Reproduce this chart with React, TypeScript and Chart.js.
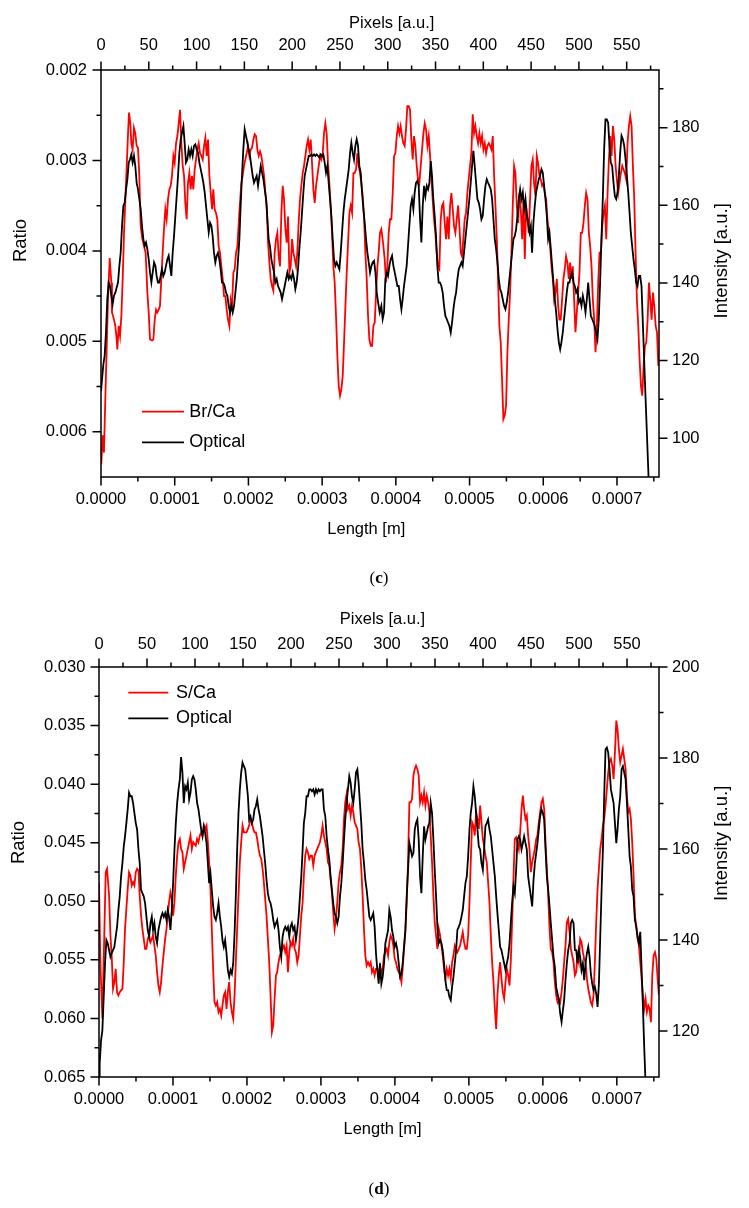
import React, { useEffect, useRef } from 'react';
import { Chart, registerables } from 'chart.js';

Chart.register(...registerables);

const FONT = "'Liberation Sans', Arial, sans-serif";

// ---- axis tick values ----
const pixelTicks = [0, 50, 100, 150, 200, 250, 300, 350, 400, 450, 500, 550];
const pixelMinorTicks = [25, 75, 125, 175, 225, 275, 325, 375, 425, 475, 525, 575];
const lengthTicks = [0, 0.0001, 0.0002, 0.0003, 0.0004, 0.0005, 0.0006, 0.0007];
const lengthMinorTicks = [0.00005, 0.00015, 0.00025, 0.00035, 0.00045, 0.00055, 0.00065, 0.00075];
const ratioTicksC = [0.002, 0.003, 0.004, 0.005, 0.006];
const ratioMinorC = [0.0025, 0.0035, 0.0045, 0.0055];
const intensityTicksC = [100, 120, 140, 160, 180];
const intensityMinorC = [110, 130, 150, 170, 190];
const ratioTicksD = [0.030, 0.035, 0.040, 0.045, 0.050, 0.055, 0.060, 0.065];
const ratioMinorD = [0.0325, 0.0375, 0.0425, 0.0475, 0.0525, 0.0575, 0.0625];
const intensityTicksD = [120, 140, 160, 180, 200];
const intensityMinorD = [130, 150, 170, 190];

// ---- series (x = pixel [a.u.], y = value) ----
const brCa: number[][] = [[0.3,0.00636],[1.7,0.00604],[3.1,0.00623],[4.5,0.00564],[5.9,0.00509],[7.3,0.00454],[9.1,0.00408],[10.8,0.00435],[11.5,0.00468],[13.6,0.00476],[15.0,0.00483],[16.4,0.00498],[17.1,0.00509],[18.5,0.00483],[19.9,0.00494],[21.3,0.00472],[22.7,0.00431],[24.1,0.00380],[25.5,0.00343],[26.9,0.00306],[28.3,0.00270],[29.3,0.00247],[30.7,0.00259],[31.7,0.00281],[33.1,0.00288],[34.5,0.00264],[35.9,0.00270],[37.3,0.00284],[38.7,0.00286],[40.1,0.00317],[41.5,0.00373],[43.3,0.00387],[45.0,0.00395],[46.7,0.00402],[48.5,0.00446],[49.9,0.00468],[51.3,0.00498],[53.4,0.00499],[54.8,0.00498],[56.2,0.00476],[57.6,0.00465],[58.9,0.00468],[60.3,0.00465],[61.7,0.00461],[63.1,0.00431],[64.5,0.00402],[65.9,0.00376],[67.3,0.00354],[68.7,0.00365],[70.1,0.00343],[71.5,0.00332],[72.9,0.00328],[74.3,0.00317],[75.7,0.00295],[77.1,0.00303],[78.5,0.00281],[79.9,0.00273],[81.3,0.00259],[82.7,0.00244],[84.1,0.00281],[85.5,0.00306],[86.9,0.00317],[88.2,0.00347],[89.6,0.00365],[91.0,0.00325],[92.4,0.00314],[93.8,0.00332],[95.2,0.00317],[96.6,0.00332],[98.0,0.00310],[99.4,0.00299],[100.8,0.00288],[102.2,0.00281],[103.6,0.00292],[105.0,0.00295],[106.4,0.00299],[107.8,0.00284],[109.2,0.00275],[110.6,0.00295],[112.0,0.00277],[113.4,0.00317],[114.8,0.00336],[116.2,0.00354],[117.5,0.00332],[118.9,0.00354],[120.3,0.00358],[121.7,0.00365],[123.1,0.00395],[124.5,0.00402],[125.9,0.00417],[127.3,0.00431],[128.7,0.00450],[130.1,0.00450],[131.5,0.00465],[132.9,0.00476],[134.3,0.00483],[135.7,0.00454],[137.1,0.00461],[138.5,0.00424],[139.9,0.00420],[141.3,0.00402],[142.7,0.00395],[144.1,0.00369],[145.4,0.00347],[146.8,0.00325],[148.2,0.00317],[149.6,0.00306],[151.0,0.00299],[152.4,0.00292],[153.8,0.00284],[155.2,0.00295],[156.6,0.00288],[158.0,0.00286],[159.4,0.00277],[160.8,0.00271],[162.2,0.00273],[163.6,0.00288],[165.0,0.00295],[166.4,0.00290],[167.8,0.00295],[169.2,0.00306],[170.6,0.00317],[172.0,0.00336],[173.4,0.00350],[174.8,0.00391],[176.2,0.00413],[177.5,0.00431],[178.9,0.00439],[180.3,0.00444],[181.7,0.00402],[183.1,0.00387],[184.5,0.00380],[185.9,0.00406],[187.3,0.00417],[188.7,0.00358],[190.1,0.00328],[191.5,0.00343],[192.9,0.00376],[194.3,0.00391],[195.7,0.00362],[197.1,0.00424],[198.5,0.00417],[199.9,0.00387],[201.3,0.00402],[202.7,0.00409],[204.1,0.00417],[205.4,0.00402],[206.8,0.00369],[208.2,0.00343],[209.6,0.00328],[211.0,0.00314],[212.4,0.00306],[213.8,0.00295],[215.2,0.00284],[216.6,0.00277],[218.0,0.00288],[219.4,0.00277],[220.8,0.00303],[222.2,0.00332],[223.6,0.00347],[225.0,0.00328],[226.4,0.00317],[227.8,0.00306],[229.2,0.00295],[230.6,0.00299],[232.0,0.00292],[233.3,0.00270],[234.7,0.00259],[236.1,0.00270],[237.5,0.00303],[238.9,0.00325],[240.3,0.00350],[241.7,0.00380],[243.1,0.00417],[244.5,0.00435],[245.9,0.00472],[247.3,0.00516],[248.7,0.00549],[250.1,0.00560],[251.5,0.00553],[252.9,0.00538],[254.3,0.00501],[255.7,0.00461],[257.1,0.00424],[258.5,0.00391],[259.9,0.00358],[261.3,0.00350],[262.7,0.00358],[264.1,0.00314],[265.4,0.00314],[266.8,0.00310],[268.2,0.00292],[269.6,0.00306],[271.0,0.00314],[272.4,0.00325],[273.8,0.00339],[275.2,0.00362],[276.6,0.00402],[278.0,0.00431],[279.4,0.00472],[280.8,0.00498],[282.2,0.00505],[283.6,0.00505],[285.0,0.00483],[286.4,0.00479],[287.8,0.00446],[289.2,0.00417],[290.5,0.00402],[291.9,0.00380],[293.3,0.00376],[295.1,0.00391],[296.8,0.00409],[298.2,0.00435],[299.6,0.00417],[301.0,0.00380],[302.4,0.00365],[303.8,0.00365],[305.2,0.00336],[306.6,0.00295],[308.0,0.00292],[309.4,0.00273],[310.8,0.00262],[312.2,0.00270],[313.5,0.00262],[314.9,0.00273],[316.3,0.00281],[317.7,0.00284],[319.1,0.00266],[320.5,0.00240],[321.9,0.00240],[323.3,0.00244],[324.7,0.00277],[326.1,0.00299],[327.5,0.00273],[328.9,0.00284],[330.3,0.00306],[331.7,0.00321],[333.1,0.00325],[334.5,0.00306],[335.9,0.00288],[337.3,0.00270],[338.7,0.00259],[340.1,0.00266],[341.5,0.00284],[342.9,0.00273],[344.3,0.00295],[345.6,0.00317],[347.0,0.00343],[348.4,0.00365],[349.8,0.00380],[351.2,0.00402],[352.6,0.00417],[354.0,0.00420],[355.4,0.00365],[356.8,0.00350],[358.2,0.00347],[359.6,0.00369],[361.0,0.00387],[362.4,0.00362],[363.8,0.00387],[365.2,0.00350],[366.6,0.00336],[368.0,0.00354],[369.4,0.00373],[370.8,0.00380],[372.2,0.00365],[373.6,0.00350],[375.0,0.00373],[376.4,0.00402],[377.7,0.00406],[379.1,0.00387],[380.5,0.00365],[381.9,0.00358],[383.3,0.00336],[384.7,0.00321],[386.1,0.00306],[387.5,0.00292],[388.9,0.00249],[390.3,0.00270],[391.7,0.00262],[393.1,0.00273],[394.5,0.00281],[395.9,0.00270],[397.3,0.00281],[398.7,0.00273],[400.1,0.00288],[401.5,0.00281],[402.9,0.00292],[404.3,0.00284],[405.7,0.00281],[407.1,0.00284],[408.5,0.00288],[409.9,0.00273],[411.3,0.00317],[412.7,0.00350],[414.1,0.00387],[415.4,0.00431],[416.8,0.00483],[418.2,0.00501],[419.6,0.00542],[421.0,0.00586],[422.4,0.00582],[423.8,0.00571],[425.2,0.00512],[426.6,0.00476],[428.0,0.00446],[429.4,0.00402],[430.8,0.00350],[432.2,0.00306],[433.6,0.00314],[435.0,0.00350],[436.4,0.00369],[437.8,0.00336],[439.2,0.00354],[440.6,0.00387],[442.0,0.00343],[443.4,0.00409],[444.8,0.00350],[446.2,0.00365],[447.5,0.00380],[448.9,0.00343],[450.3,0.00306],[451.7,0.00299],[453.1,0.00325],[454.5,0.00339],[455.9,0.00295],[457.3,0.00303],[458.7,0.00317],[460.1,0.00321],[461.5,0.00328],[462.9,0.00325],[464.3,0.00336],[465.7,0.00343],[467.1,0.00365],[468.5,0.00380],[469.9,0.00395],[471.3,0.00417],[472.7,0.00431],[474.1,0.00454],[475.5,0.00446],[476.9,0.00431],[478.3,0.00461],[479.6,0.00476],[481.0,0.00476],[482.4,0.00454],[483.8,0.00431],[485.2,0.00420],[486.6,0.00406],[488.0,0.00413],[489.4,0.00431],[490.8,0.00413],[492.2,0.00431],[493.6,0.00417],[495.0,0.00454],[496.4,0.00490],[497.8,0.00468],[499.2,0.00446],[500.6,0.00424],[502.0,0.00380],[503.4,0.00380],[504.8,0.00369],[506.2,0.00350],[507.6,0.00336],[509.0,0.00343],[510.4,0.00380],[511.8,0.00395],[513.2,0.00417],[514.6,0.00454],[516.0,0.00476],[517.4,0.00512],[518.8,0.00483],[520.2,0.00435],[521.6,0.00402],[523.0,0.00402],[524.4,0.00373],[525.8,0.00358],[527.2,0.00350],[528.6,0.00387],[530.0,0.00336],[531.4,0.00299],[532.8,0.00273],[534.2,0.00295],[535.6,0.00262],[537.0,0.00277],[538.4,0.00306],[539.7,0.00321],[541.1,0.00336],[542.5,0.00325],[543.9,0.00314],[545.3,0.00306],[546.7,0.00310],[548.1,0.00314],[549.5,0.00321],[550.9,0.00281],[552.3,0.00262],[553.7,0.00251],[555.1,0.00262],[556.5,0.00306],[557.9,0.00343],[559.3,0.00402],[560.7,0.00454],[562.1,0.00483],[563.5,0.00520],[564.9,0.00549],[566.3,0.00560],[567.7,0.00527],[569.1,0.00505],[570.5,0.00501],[571.9,0.00476],[573.3,0.00435],[574.7,0.00454],[576.1,0.00476],[577.5,0.00446],[578.9,0.00461],[580.3,0.00483],[581.7,0.00490],[583.1,0.00527]];

const opticalC: number[][] = [[0,112.1],[2.4,118.9],[3.8,121.2],[5.2,127.2],[6.6,135.8],[8.0,140.1],[9.4,139.2],[10.8,136.7],[12.2,134.5],[13.6,136.7],[15.0,137.5],[16.4,138.8],[17.8,140.1],[19.2,144.4],[20.6,147.8],[22.0,154.7],[23.4,159.8],[24.8,160.7],[26.2,164.1],[27.6,166.7],[29.0,171.0],[30.3,171.8],[31.7,173.1],[33.1,171.0],[34.5,172.7],[35.9,170.1],[37.3,165.8],[38.7,164.1],[40.1,161.6],[41.5,159.0],[42.9,154.7],[44.3,151.3],[45.7,149.5],[47.1,150.4],[48.5,148.7],[49.9,146.1],[51.3,142.7],[52.7,140.1],[54.1,142.7],[55.5,145.3],[56.9,144.4],[58.2,141.8],[59.6,140.1],[61.0,140.1],[62.4,141.8],[63.8,143.5],[65.2,141.8],[66.6,142.7],[68.0,144.4],[69.4,146.1],[70.8,147.0],[72.2,144.4],[73.6,141.8],[75.0,147.8],[76.4,152.1],[77.8,157.3],[79.2,162.4],[80.6,167.6],[82.0,173.6],[83.4,177.0],[84.8,178.7],[86.2,180.4],[87.5,176.1],[88.9,171.0],[90.3,171.8],[91.7,174.4],[93.1,172.7],[94.5,174.4],[95.9,172.7],[97.3,175.3],[98.7,175.7],[100.1,174.4],[101.5,173.6],[102.9,171.0],[104.3,169.3],[105.7,167.6],[107.1,165.8],[108.5,163.3],[109.9,159.8],[111.3,156.4],[112.7,153.0],[114.1,155.5],[115.5,154.7],[116.8,152.1],[118.2,147.8],[119.6,145.3],[121.0,147.0],[122.4,147.8],[123.8,146.1],[125.2,143.5],[126.6,140.1],[128.0,140.1],[129.4,139.2],[130.8,137.5],[132.2,136.7],[133.6,134.1],[135.0,132.4],[136.4,134.1],[137.8,132.4],[139.2,134.1],[140.6,137.5],[142.0,141.0],[143.4,146.1],[144.8,151.3],[146.1,159.8],[147.5,167.6],[148.9,174.4],[150.3,179.6],[151.7,177.9],[153.1,176.1],[154.5,174.4],[155.9,172.7],[157.3,170.1],[158.7,167.6],[160.1,165.8],[161.5,166.7],[162.9,167.6],[164.3,165.0],[165.7,167.6],[167.1,170.1],[168.5,168.4],[169.9,166.7],[171.3,164.1],[172.7,161.6],[174.1,156.4],[175.4,151.3],[176.8,149.5],[178.2,146.1],[179.6,144.4],[181.0,142.7],[182.4,140.1],[183.8,141.0],[185.2,139.2],[186.6,138.4],[188.0,137.5],[189.4,135.8],[190.8,137.5],[192.2,139.2],[193.6,141.0],[195.0,142.7],[196.4,141.0],[197.8,141.8],[199.2,141.0],[200.6,142.7],[202.0,141.0],[203.3,138.4],[204.7,140.1],[206.1,143.5],[207.5,148.7],[208.9,153.0],[210.3,158.1],[211.7,163.3],[213.1,167.6],[214.5,169.3],[215.9,171.0],[217.3,172.7],[218.7,172.7],[220.1,173.1],[221.5,172.7],[222.9,173.1],[224.3,172.7],[225.7,173.1],[227.1,172.7],[228.5,172.3],[229.9,173.1],[231.3,172.7],[232.6,173.1],[234.0,171.0],[235.4,168.4],[236.8,170.1],[238.2,165.8],[239.6,161.6],[241.0,157.3],[242.4,151.3],[243.8,146.1],[245.2,144.4],[246.6,145.3],[248.0,144.4],[249.4,143.5],[250.8,147.8],[252.2,153.0],[253.6,158.1],[255.0,161.6],[256.4,164.1],[257.8,166.7],[259.2,169.3],[260.6,173.6],[261.9,176.1],[263.3,173.6],[264.7,171.8],[266.1,175.3],[267.5,177.0],[268.9,175.3],[270.3,170.1],[271.7,168.4],[273.1,163.3],[274.5,159.0],[275.9,155.5],[277.3,151.3],[278.7,147.8],[280.1,145.3],[281.5,142.7],[282.9,144.4],[284.3,145.3],[285.7,145.7],[287.1,142.7],[288.5,137.5],[289.9,135.0],[291.6,132.4],[293.3,134.1],[294.7,130.7],[296.1,132.4],[297.5,141.0],[298.9,142.7],[300.3,141.8],[301.7,144.4],[303.1,146.1],[304.5,147.0],[305.9,144.4],[307.3,142.7],[308.7,141.0],[310.1,139.2],[311.5,139.2],[312.9,135.8],[314.3,133.2],[315.6,135.8],[317.0,139.2],[318.4,141.8],[319.8,144.4],[321.2,149.5],[322.6,154.7],[324.0,159.8],[325.4,161.6],[326.8,159.0],[328.2,163.3],[329.6,165.8],[331.0,166.3],[332.4,165.0],[333.8,156.4],[335.2,150.4],[336.6,159.8],[338.0,165.0],[339.4,162.4],[340.8,165.0],[342.2,164.1],[343.6,165.8],[345.0,171.4],[346.3,167.6],[347.7,161.6],[349.1,157.3],[350.5,152.1],[351.9,144.4],[353.3,140.1],[354.7,140.1],[356.1,139.2],[357.5,137.5],[358.9,134.1],[360.3,131.5],[361.7,130.7],[363.1,129.8],[364.5,128.9],[365.9,127.2],[367.3,129.8],[368.7,133.2],[370.1,135.8],[371.5,137.5],[372.9,141.0],[374.3,143.5],[375.7,144.4],[377.1,145.3],[378.4,144.4],[379.8,147.8],[381.2,151.3],[382.6,154.7],[384.0,158.1],[385.4,161.6],[386.8,165.8],[388.2,170.1],[389.6,174.0],[391.0,170.1],[392.4,165.8],[393.8,161.6],[395.2,160.7],[396.6,159.0],[398.0,156.4],[399.4,157.3],[400.8,161.6],[402.2,165.0],[403.6,166.7],[405.0,165.8],[406.4,165.0],[407.8,164.1],[409.2,161.6],[410.6,156.4],[412.0,151.3],[413.4,148.7],[414.8,145.3],[416.2,141.0],[417.5,138.4],[418.9,137.5],[420.3,135.8],[421.7,134.1],[423.1,133.2],[424.5,135.0],[425.9,137.5],[427.3,141.0],[428.7,144.4],[430.1,147.8],[431.5,151.3],[432.9,152.1],[434.3,153.8],[435.7,157.3],[437.1,161.6],[438.5,164.1],[439.9,161.6],[441.3,163.3],[442.7,159.0],[444.1,161.6],[445.5,157.3],[446.9,155.5],[448.3,153.0],[449.7,154.7],[451.0,147.8],[452.4,155.5],[453.8,159.8],[455.2,163.3],[456.6,165.0],[458.0,166.7],[459.4,167.6],[460.8,169.3],[462.2,168.4],[463.6,165.0],[465.0,161.6],[466.4,157.3],[467.8,151.3],[469.2,153.0],[470.6,148.7],[472.0,144.4],[473.4,140.1],[474.8,135.8],[476.2,132.4],[477.6,128.1],[479.0,124.7],[480.4,122.9],[481.7,124.7],[483.1,127.2],[484.5,130.7],[485.9,134.1],[487.3,137.5],[488.7,140.1],[490.1,140.1],[491.5,141.8],[492.9,142.7],[494.3,140.1],[495.7,139.2],[497.1,137.5],[498.5,138.4],[499.9,135.0],[501.3,135.8],[502.7,134.1],[504.1,136.7],[505.5,135.0],[506.9,132.4],[508.3,135.8],[509.7,140.1],[511.1,135.8],[512.5,131.5],[513.9,130.7],[515.3,129.8],[516.6,128.9],[518.0,127.2],[519.4,125.5],[520.8,130.7],[522.2,140.1],[523.6,151.3],[525.0,161.6],[526.4,174.4],[527.8,182.1],[529.2,182.1],[530.6,181.3],[532.0,175.3],[533.4,171.0],[534.8,170.1],[536.2,165.8],[537.6,162.4],[539.0,161.6],[540.4,163.3],[541.8,167.6],[543.2,173.6],[544.6,177.9],[546.0,177.0],[547.4,175.3],[548.8,171.8],[550.2,167.6],[551.6,163.3],[553.0,158.1],[554.3,153.0],[555.7,149.5],[557.1,146.1],[558.5,143.5],[559.9,140.1],[561.3,139.2],[562.7,141.8],[564.1,141.8],[565.5,139.2],[569.0,115.2],[573.2,87.8]];

const sCa: number[][] = [[0.0,0.04837],[1.4,0.05520],[3.5,0.06003],[7.0,0.04752],[8.4,0.04723],[10.5,0.04951],[11.9,0.05292],[13.2,0.05463],[14.6,0.05747],[16.0,0.05690],[17.4,0.05577],[18.8,0.05776],[20.2,0.05804],[21.6,0.05776],[23.0,0.05761],[24.4,0.05747],[25.8,0.05520],[27.1,0.05236],[28.5,0.05065],[29.9,0.04894],[31.3,0.04752],[32.7,0.04780],[34.1,0.04866],[35.5,0.04837],[36.9,0.04866],[38.3,0.04752],[39.7,0.04723],[41.1,0.04738],[42.4,0.04951],[43.8,0.05122],[45.2,0.05236],[46.6,0.05321],[48.0,0.05406],[49.4,0.05406],[50.8,0.05321],[52.2,0.05292],[53.6,0.05349],[55.0,0.05321],[56.3,0.05292],[57.7,0.05378],[59.1,0.05463],[60.5,0.05605],[61.9,0.05719],[63.3,0.05776],[64.7,0.05690],[66.1,0.05548],[67.5,0.05434],[68.9,0.05321],[70.3,0.05236],[71.6,0.05122],[73.0,0.05008],[74.4,0.04923],[75.8,0.04979],[77.2,0.05122],[78.6,0.05008],[80.0,0.04780],[81.4,0.04610],[82.8,0.04496],[84.2,0.04468],[85.5,0.04553],[86.9,0.04581],[88.3,0.04723],[89.7,0.04667],[91.1,0.04610],[92.5,0.04553],[93.9,0.04496],[95.3,0.04439],[96.7,0.04553],[98.1,0.04496],[99.4,0.04510],[100.8,0.04525],[102.2,0.04468],[103.6,0.04496],[105.0,0.04439],[106.4,0.04411],[107.8,0.04439],[109.2,0.04354],[110.6,0.04382],[112.0,0.04354],[113.4,0.04496],[114.7,0.04667],[116.1,0.04894],[117.5,0.05236],[118.9,0.05577],[120.3,0.05861],[121.7,0.05890],[123.1,0.05861],[124.5,0.05946],[125.9,0.05918],[127.3,0.05975],[128.6,0.05890],[130.0,0.05804],[131.4,0.05776],[132.8,0.05918],[134.2,0.05776],[135.6,0.05690],[137.0,0.05861],[138.4,0.05946],[139.8,0.06003],[141.2,0.05804],[142.5,0.05520],[143.9,0.05236],[145.3,0.04951],[146.7,0.04667],[148.1,0.04496],[149.5,0.04354],[150.9,0.04411],[152.3,0.04411],[153.7,0.04411],[155.1,0.04382],[156.4,0.04354],[157.8,0.04297],[159.2,0.04325],[160.6,0.04382],[162.0,0.04411],[163.4,0.04411],[164.8,0.04468],[166.2,0.04553],[167.6,0.04610],[169.0,0.04638],[170.4,0.04723],[171.7,0.04837],[173.1,0.04979],[174.5,0.05122],[175.9,0.05321],[177.3,0.05520],[178.7,0.05804],[180.1,0.06117],[181.5,0.06060],[182.9,0.05832],[184.3,0.05633],[185.6,0.05605],[187.0,0.05520],[188.4,0.05463],[189.8,0.05434],[191.2,0.05406],[192.6,0.05378],[194.0,0.05434],[195.4,0.05378],[196.8,0.05605],[198.2,0.05434],[199.5,0.05349],[200.9,0.05378],[202.3,0.05321],[203.7,0.05406],[205.1,0.05434],[206.5,0.05520],[207.9,0.05463],[209.3,0.05292],[210.7,0.05122],[212.1,0.05008],[213.4,0.04780],[214.8,0.04610],[216.2,0.04553],[217.6,0.04581],[219.0,0.04638],[220.4,0.04610],[221.8,0.04610],[223.2,0.04695],[224.6,0.04610],[226.0,0.04581],[227.3,0.04553],[228.7,0.04525],[230.1,0.04496],[231.5,0.04439],[232.9,0.04354],[234.3,0.04439],[235.7,0.04496],[237.1,0.04553],[238.5,0.04667],[239.9,0.04695],[241.2,0.04809],[242.6,0.04923],[244.0,0.05093],[245.4,0.05236],[246.8,0.05150],[248.2,0.05008],[249.6,0.04837],[251.0,0.04752],[252.4,0.04695],[253.8,0.04553],[255.2,0.04297],[256.5,0.04155],[257.9,0.04084],[259.3,0.04212],[260.7,0.04183],[262.1,0.04268],[263.5,0.04183],[264.9,0.04240],[266.3,0.04325],[267.7,0.04354],[269.1,0.04382],[270.4,0.04496],[271.8,0.04553],[273.2,0.04723],[274.6,0.04951],[276.0,0.05236],[277.4,0.05463],[278.8,0.05548],[280.2,0.05520],[281.6,0.05548],[283.0,0.05520],[284.3,0.05605],[285.7,0.05577],[287.1,0.05633],[288.5,0.05577],[289.9,0.05577],[291.3,0.05605],[292.7,0.05548],[294.1,0.05605],[295.5,0.05577],[296.9,0.05463],[298.3,0.05434],[299.7,0.05406],[301.1,0.05463],[302.4,0.05349],[303.8,0.05292],[305.2,0.05321],[306.6,0.05378],[308.0,0.05491],[309.4,0.05520],[310.8,0.05577],[312.2,0.05605],[313.6,0.05633],[315.0,0.05690],[316.3,0.05577],[317.7,0.05406],[319.1,0.05264],[320.5,0.05008],[321.9,0.04667],[323.3,0.04155],[324.7,0.04155],[326.1,0.04126],[327.5,0.03927],[328.9,0.03870],[330.2,0.03842],[331.6,0.03870],[333.0,0.03927],[334.4,0.04155],[335.8,0.04098],[337.2,0.04155],[338.6,0.04069],[340.0,0.04183],[341.4,0.04098],[342.8,0.04155],[344.1,0.04240],[345.5,0.04439],[346.9,0.04667],[348.3,0.04951],[349.7,0.05179],[351.1,0.05292],[352.5,0.05406],[353.9,0.05236],[355.3,0.05292],[356.7,0.05378],[358.0,0.05463],[359.4,0.05577],[360.8,0.05662],[362.2,0.05577],[363.6,0.05633],[365.0,0.05577],[366.4,0.05662],[367.8,0.05520],[369.2,0.05463],[370.6,0.05378],[372.0,0.05406],[373.3,0.05434],[374.7,0.05406],[376.1,0.05378],[377.5,0.05321],[378.9,0.05264],[380.3,0.05349],[381.7,0.05406],[383.1,0.05406],[384.5,0.05292],[385.9,0.05008],[387.2,0.04667],[388.6,0.04325],[390.0,0.04354],[391.4,0.04439],[392.8,0.04240],[394.2,0.04297],[395.6,0.04382],[397.0,0.04183],[398.4,0.04325],[399.8,0.04468],[401.1,0.04525],[402.5,0.04610],[403.9,0.04667],[405.3,0.04837],[406.7,0.05008],[408.1,0.05292],[409.5,0.05520],[410.9,0.05690],[412.3,0.05918],[413.7,0.06089],[415.0,0.05804],[416.4,0.05633],[417.8,0.05520],[419.2,0.05662],[420.6,0.05776],[422.0,0.05832],[423.4,0.05690],[424.8,0.05577],[426.2,0.05633],[427.6,0.05719],[428.9,0.05520],[430.3,0.05179],[431.7,0.04809],[433.1,0.04468],[434.5,0.04453],[435.9,0.04496],[437.3,0.04553],[438.7,0.04411],[440.1,0.04212],[441.5,0.04098],[442.8,0.04212],[444.2,0.04297],[445.6,0.04268],[447.0,0.04439],[448.4,0.04553],[449.8,0.04752],[451.2,0.04667],[452.6,0.04610],[454.0,0.04553],[455.4,0.04468],[456.7,0.04439],[458.1,0.04325],[459.5,0.04240],[460.9,0.04155],[462.3,0.04126],[463.7,0.04212],[465.1,0.04496],[466.5,0.04723],[467.9,0.04951],[469.3,0.05236],[470.6,0.05406],[472.0,0.05434],[473.4,0.05520],[474.8,0.05690],[476.2,0.05804],[477.6,0.05861],[479.0,0.05832],[480.4,0.05861],[481.8,0.05776],[483.2,0.05662],[484.5,0.05520],[485.9,0.05378],[487.3,0.05179],[488.7,0.05150],[490.1,0.05264],[491.5,0.05406],[492.9,0.05463],[494.3,0.05520],[495.7,0.05633],[497.1,0.05605],[498.4,0.05463],[499.8,0.05520],[501.2,0.05321],[502.6,0.05349],[504.0,0.05434],[505.4,0.05491],[506.8,0.05520],[508.2,0.05662],[509.6,0.05747],[511.0,0.05804],[512.3,0.05861],[513.7,0.05890],[515.1,0.05804],[516.5,0.05520],[517.9,0.05179],[519.3,0.04894],[520.7,0.04723],[522.1,0.04553],[523.5,0.04468],[524.9,0.04354],[526.2,0.04297],[527.6,0.04183],[529.0,0.04041],[530.4,0.03899],[531.8,0.03813],[533.2,0.03785],[534.6,0.03842],[536.0,0.03956],[537.4,0.03728],[538.8,0.03458],[540.1,0.03529],[541.5,0.03700],[542.9,0.03813],[544.3,0.03757],[545.7,0.03700],[547.1,0.03785],[548.5,0.03870],[549.9,0.04098],[551.3,0.04240],[552.7,0.04212],[554.0,0.04297],[555.4,0.04496],[556.8,0.04780],[558.2,0.05122],[559.6,0.05207],[561.0,0.05321],[562.4,0.05378],[563.8,0.05520],[565.2,0.05662],[566.6,0.05804],[567.9,0.05918],[569.3,0.05832],[570.7,0.05946],[572.1,0.05890],[573.5,0.05918],[574.9,0.06032],[576.3,0.05633],[577.7,0.05463],[579.1,0.05434],[580.5,0.05491],[581.9,0.05662],[583.2,0.05804]];

const opticalD: number[][] = [[0.0,109.5],[0.7,112.8],[2.1,117.9],[3.5,120.1],[4.9,127.5],[6.3,134.9],[7.7,140.0],[9.1,139.3],[10.5,137.8],[11.9,136.3],[13.2,137.1],[14.6,137.8],[16.0,138.5],[17.4,140.7],[18.8,142.9],[20.2,146.6],[21.6,149.6],[23.0,154.0],[24.4,156.9],[25.8,160.6],[27.1,162.8],[28.5,165.7],[29.9,168.7],[31.3,172.4],[32.7,171.6],[34.1,171.6],[35.5,170.1],[36.9,167.9],[38.3,165.7],[39.7,164.3],[41.1,159.9],[42.4,156.9],[43.8,151.0],[45.2,150.3],[46.6,149.6],[48.0,148.1],[49.4,145.1],[50.8,142.2],[52.2,140.7],[53.6,143.7],[55.0,145.1],[56.3,142.2],[57.7,143.7],[59.1,140.7],[60.5,139.3],[61.9,142.2],[63.3,143.7],[64.7,145.1],[66.1,145.9],[67.5,145.1],[68.9,145.9],[70.3,144.4],[71.6,146.6],[73.0,145.1],[74.4,142.2],[75.8,146.6],[77.2,152.5],[78.6,159.9],[80.0,165.7],[81.4,170.1],[82.8,173.1],[84.2,175.3],[85.5,180.2],[86.9,176.8],[88.3,170.1],[89.7,173.8],[91.1,173.1],[92.5,174.6],[93.9,170.9],[95.3,172.4],[96.7,175.3],[98.1,176.0],[99.4,175.3],[100.8,173.1],[102.2,170.1],[103.6,168.7],[105.0,166.5],[106.4,164.3],[107.8,162.8],[109.2,165.0],[110.6,163.5],[112.0,161.3],[113.4,156.9],[114.7,152.5],[116.1,154.7],[117.5,151.0],[118.9,147.4],[120.3,145.1],[121.7,144.4],[123.1,145.9],[124.5,148.1],[125.9,145.1],[127.3,142.9],[128.6,140.0],[130.0,138.5],[131.4,140.0],[132.8,137.1],[134.2,133.4],[135.6,131.9],[137.0,133.4],[138.4,132.6],[139.8,134.9],[141.2,141.5],[142.5,149.6],[143.9,159.9],[145.3,167.9],[146.7,173.1],[148.1,176.8],[149.5,179.0],[150.9,178.2],[152.3,177.5],[153.7,174.6],[155.1,171.6],[156.4,166.5],[157.8,167.2],[159.2,165.7],[160.6,166.5],[162.0,168.7],[163.4,169.4],[164.8,170.9],[166.2,168.7],[167.6,167.2],[169.0,165.0],[170.4,162.8],[171.7,159.9],[173.1,156.9],[174.5,153.2],[175.9,150.3],[177.3,148.8],[178.7,148.1],[180.1,146.6],[181.5,144.4],[182.9,142.9],[184.3,143.7],[185.6,144.4],[187.0,142.2],[188.4,138.5],[189.8,136.3],[191.2,140.7],[192.6,142.2],[194.0,142.9],[195.4,142.2],[196.8,142.9],[198.2,140.7],[199.5,142.9],[200.9,143.7],[202.3,142.2],[203.7,142.9],[205.1,140.0],[206.5,142.2],[207.9,145.1],[209.3,149.6],[210.7,154.0],[212.1,159.9],[213.4,165.7],[214.8,167.9],[216.2,171.6],[217.6,171.6],[219.0,173.1],[220.4,173.1],[221.8,172.7],[223.2,173.1],[224.6,172.0],[226.0,173.1],[227.3,172.4],[228.7,173.1],[230.1,172.7],[231.5,173.1],[232.9,173.1],[234.3,168.7],[235.7,167.2],[237.1,162.8],[238.5,159.9],[239.9,157.6],[241.2,154.0],[242.6,151.0],[244.0,148.1],[245.4,145.9],[246.8,145.1],[248.2,143.7],[249.6,145.1],[251.0,149.6],[252.4,152.5],[253.8,156.9],[255.2,162.1],[256.5,166.5],[257.9,170.1],[259.3,173.1],[260.7,176.0],[262.1,174.6],[263.5,171.6],[264.9,170.1],[266.3,173.1],[267.7,176.8],[269.1,177.5],[270.4,174.6],[271.8,170.1],[273.2,165.7],[274.6,159.9],[276.0,156.9],[277.4,153.2],[278.8,151.0],[280.2,148.1],[281.6,145.1],[283.0,144.4],[284.3,145.1],[285.7,145.9],[287.1,142.9],[288.5,137.1],[289.9,133.4],[291.3,130.4],[292.7,134.9],[294.1,130.4],[295.5,131.9],[296.9,134.9],[298.3,139.3],[299.7,140.7],[301.1,142.2],[302.4,146.6],[303.8,145.1],[305.2,142.2],[306.6,140.7],[308.0,138.5],[309.4,139.3],[310.8,137.8],[312.2,134.9],[313.6,131.9],[315.0,132.6],[316.3,134.9],[317.7,138.5],[319.1,142.2],[320.5,149.6],[321.9,155.4],[323.3,161.3],[324.7,159.9],[326.1,158.4],[327.5,159.1],[328.9,164.3],[330.2,165.7],[331.6,166.5],[333.0,162.1],[334.4,154.0],[335.8,150.3],[337.2,158.4],[338.6,165.0],[340.0,162.1],[341.4,163.5],[342.8,165.0],[344.1,165.7],[345.5,170.1],[346.9,167.9],[348.3,162.1],[349.7,155.4],[351.1,149.6],[352.5,142.9],[353.9,139.3],[355.3,140.0],[356.7,139.3],[358.0,137.8],[359.4,134.9],[360.8,131.2],[362.2,129.0],[363.6,129.0],[365.0,127.5],[366.4,126.8],[367.8,129.7],[369.2,131.9],[370.6,134.9],[372.0,137.8],[373.3,142.2],[374.7,142.9],[376.1,143.7],[377.5,145.1],[378.9,146.6],[380.3,149.6],[381.7,152.5],[383.1,154.0],[384.5,158.4],[385.9,164.3],[387.2,167.9],[388.6,170.1],[390.0,173.8],[391.4,171.6],[392.8,167.9],[394.2,164.3],[395.6,160.6],[397.0,159.9],[398.4,156.9],[399.8,155.4],[401.1,159.9],[402.5,165.0],[403.9,165.7],[405.3,166.5],[406.7,164.3],[408.1,162.8],[409.5,159.9],[410.9,156.9],[412.3,154.0],[413.7,149.6],[415.0,145.9],[416.4,142.2],[417.8,138.5],[419.2,137.8],[420.6,136.3],[422.0,134.9],[423.4,133.4],[424.8,134.9],[426.2,136.3],[427.6,139.3],[428.9,143.7],[430.3,148.1],[431.7,151.8],[433.1,150.3],[434.5,155.4],[435.9,162.1],[437.3,162.8],[438.7,162.1],[440.1,159.9],[441.5,161.3],[442.8,162.8],[444.2,161.3],[445.6,159.9],[447.0,154.0],[448.4,151.8],[449.8,149.6],[451.2,147.4],[452.6,153.2],[454.0,156.9],[455.4,159.1],[456.7,161.3],[458.1,164.3],[459.5,167.2],[460.9,168.7],[462.3,167.9],[463.7,166.5],[465.1,159.9],[466.5,154.0],[467.9,151.0],[469.3,147.4],[470.6,143.7],[472.0,140.0],[473.4,136.3],[474.8,134.1],[476.2,129.7],[477.6,128.2],[479.0,126.8],[480.4,123.8],[481.8,122.0],[483.2,124.6],[484.5,126.8],[485.9,131.2],[487.3,134.9],[488.7,137.8],[490.1,139.3],[491.5,143.7],[492.9,144.4],[494.3,143.7],[495.7,137.8],[497.1,137.8],[498.4,134.9],[499.8,137.8],[501.2,136.3],[502.6,133.4],[504.0,134.9],[505.4,131.2],[506.8,134.9],[508.2,137.1],[509.6,138.5],[511.0,136.3],[512.3,132.6],[513.7,130.4],[515.1,129.0],[516.5,129.7],[517.9,128.2],[519.3,125.3],[520.7,130.4],[522.1,140.7],[523.5,151.0],[524.9,159.9],[526.2,171.6],[527.6,181.9],[529.0,182.3],[530.4,181.2],[531.8,177.5],[533.2,173.1],[534.6,171.6],[536.0,170.1],[537.4,165.7],[538.8,161.3],[540.1,164.3],[541.5,168.7],[542.9,171.6],[544.3,177.5],[545.7,178.2],[547.1,176.8],[548.5,175.3],[549.9,170.1],[551.3,164.3],[552.7,158.4],[554.0,156.2],[555.4,151.0],[556.8,149.6],[558.2,144.4],[559.6,142.9],[561.0,140.7],[562.4,139.3],[563.8,141.8],[565.2,133.4],[566.6,124.9],[567.9,116.5],[569.3,108.4],[569.8,105.0]];

type Panel = {
  red: number[][]; optical: number[][]; redLabel: string;
  height: number; leftW: number; rightW: number; topH: number; bottomH: number;
  pixelMax: number; lengthMax: number;
  ratioMin: number; ratioMax: number; ratioTicks: number[]; ratioMinor: number[];
  intMin: number; intMax: number; intTicks: number[]; intMinor: number[];
  padTop: number; padBottom: number; padLeft: number; padRight: number;
  pixTitle: number[]; lenTitle: number[]; ratioTitle: number[]; intTitle: number[];
  legend: { x0: number; x1: number; tx: number; y1: number; y2: number };
};

const panelC: Panel = {
  red: brCa, optical: opticalC, redLabel: 'Br/Ca',
  height: 590, leftW: 101, rightW: 90, topH: 70, bottomH: 113,
  pixelMax: 583.8, lengthMax: 0.000757,
  ratioMin: 0.002, ratioMax: 0.0065, ratioTicks: ratioTicksC, ratioMinor: ratioMinorC,
  intMin: 90, intMax: 194.85, intTicks: intensityTicksC, intMinor: intensityMinorC,
  padTop: 14.6, padBottom: 12.6, padLeft: 14, padRight: 13,
  pixTitle: [391.7, 23.5], lenTitle: [366.3, 529.5], ratioTitle: [20.8, 240.5], intTitle: [721.7, 260.8],
  legend: { x0: 142, x1: 184, tx: 189.3, y1: 411.7, y2: 442.3 },
};

const panelD: Panel = {
  red: sCa, optical: opticalD, redLabel: 'S/Ca',
  height: 611, leftW: 99, rightW: 90, topH: 70, bottomH: 131,
  pixelMax: 583.3, lengthMax: 0.000757,
  ratioMin: 0.030, ratioMax: 0.065, ratioTicks: ratioTicksD, ratioMinor: ratioMinorD,
  intMin: 109.9, intMax: 200, intTicks: intensityTicksD, intMinor: intensityMinorD,
  padTop: 13, padBottom: 12.2, padLeft: 13.6, padRight: 13,
  pixTitle: [382.5, 22], lenTitle: [382.5, 532], ratioTitle: [18.5, 245.5], intTitle: [721.7, 246.3],
  legend: { x0: 128.3, x1: 168.3, tx: 176, y1: 95.7, y2: 121.3 },
};

const MAJOR = 8.5;
const MINOR = 4.5;
const LINE_W = 1.8;

function decorPlugin(p: Panel) {
  return {
    id: 'decor',
    afterDraw(chart: any) {
      const { ctx, chartArea: a, scales: s } = chart;
      ctx.save();
      ctx.strokeStyle = '#000';
      ctx.lineWidth = 1.5;
      ctx.beginPath();
      const vx = (scale: any, vals: number[], len: number, top: boolean) => {
        for (const v of vals) {
          const x = scale.getPixelForValue(v);
          const y0 = top ? a.top : a.bottom;
          ctx.moveTo(x, y0);
          ctx.lineTo(x, top ? y0 - len : y0 + len);
        }
      };
      const vy = (scale: any, vals: number[], len: number, left: boolean) => {
        for (const v of vals) {
          const y = scale.getPixelForValue(v);
          const x0 = left ? a.left : a.right;
          ctx.moveTo(x0, y);
          ctx.lineTo(left ? x0 - len : x0 + len, y);
        }
      };
      vx(s.xp, pixelTicks, MAJOR, true);
      vx(s.xp, pixelMinorTicks, MINOR, true);
      vx(s.xl, lengthTicks, MAJOR, false);
      vx(s.xl, lengthMinorTicks, MINOR, false);
      vy(s.yr, p.ratioTicks, MAJOR, true);
      vy(s.yr, p.ratioMinor, MINOR, true);
      vy(s.yi, p.intTicks, MAJOR, false);
      vy(s.yi, p.intMinor, MINOR, false);
      ctx.stroke();
      ctx.strokeRect(a.left, a.top, a.right - a.left, a.bottom - a.top);

      // axis titles
      ctx.fillStyle = '#000';
      ctx.textAlign = 'center';
      ctx.textBaseline = 'middle';
      ctx.font = `16.5px ${FONT}`;
      ctx.fillText('Pixels [a.u.]', p.pixTitle[0], p.pixTitle[1]);
      ctx.fillText('Length [m]', p.lenTitle[0], p.lenTitle[1]);
      ctx.font = `18.5px ${FONT}`;
      ctx.save();
      ctx.translate(p.ratioTitle[0], p.ratioTitle[1]);
      ctx.rotate(-Math.PI / 2);
      ctx.fillText('Ratio', 0, 0);
      ctx.restore();
      ctx.save();
      ctx.translate(p.intTitle[0], p.intTitle[1]);
      ctx.rotate(-Math.PI / 2);
      ctx.fillText('Intensity [a.u.]', 0, 0);
      ctx.restore();

      // legend
      ctx.font = `18px ${FONT}`;
      ctx.textAlign = 'left';
      const rows: [string, string, number][] = [
        [p.redLabel, '#ff0000', p.legend.y1],
        ['Optical', '#000000', p.legend.y2],
      ];
      for (const [label, color, y] of rows) {
        ctx.strokeStyle = color;
        ctx.lineWidth = LINE_W;
        ctx.beginPath();
        ctx.moveTo(p.legend.x0, y);
        ctx.lineTo(p.legend.x1, y);
        ctx.stroke();
        ctx.fillStyle = '#000';
        ctx.fillText(label, p.legend.tx, y);
      }
      ctx.restore();
    },
  };
}

function makeConfig(p: Panel): any {
  const tickFont = { family: FONT, size: 16.5 };
  const fixed = (vals: number[]) => (scale: any) => {
    scale.ticks = vals.map((v) => ({ value: v }));
  };
  const common = {
    type: 'linear',
    grid: { display: false, drawTicks: false },
    border: { display: false },
  };
  return {
    type: 'line',
    data: {
      datasets: [
        {
          label: 'Optical',
          data: p.optical.map(([x, y]) => ({ x, y })),
          xAxisID: 'xp', yAxisID: 'yi',
          borderColor: '#000000', borderWidth: LINE_W,
          pointRadius: 0, tension: 0, fill: false, order: 0,
        },
        {
          label: p.redLabel,
          data: p.red.map(([x, y]) => ({ x, y })),
          xAxisID: 'xp', yAxisID: 'yr',
          borderColor: '#ff0000', borderWidth: LINE_W,
          pointRadius: 0, tension: 0, fill: false, order: 1,
        },
      ],
    },
    options: {
      responsive: false,
      animation: false,
      events: [],
      layout: { padding: 0 },
      plugins: { legend: { display: false }, tooltip: { enabled: false } },
      scales: {
        xp: {
          ...common, position: 'top', min: 0, max: p.pixelMax,
          afterBuildTicks: fixed(pixelTicks),
          afterFit: (s: any) => { s.height = p.topH; },
          ticks: { font: tickFont, color: '#000', padding: p.padTop, autoSkip: false, maxRotation: 0, minRotation: 0, callback: (v: number) => String(v) },
        },
        xl: {
          ...common, position: 'bottom', min: 0, max: p.lengthMax,
          afterBuildTicks: fixed(lengthTicks),
          afterFit: (s: any) => { s.height = p.bottomH; },
          ticks: { font: tickFont, color: '#000', padding: p.padBottom, autoSkip: false, maxRotation: 0, minRotation: 0, callback: (v: number) => Number(v).toFixed(4) },
        },
        yr: {
          ...common, position: 'left', min: p.ratioMin, max: p.ratioMax, reverse: true,
          afterBuildTicks: fixed(p.ratioTicks),
          afterFit: (s: any) => { s.width = p.leftW; },
          ticks: { font: tickFont, color: '#000', padding: p.padLeft, autoSkip: false, callback: (v: number) => Number(v).toFixed(3) },
        },
        yi: {
          ...common, position: 'right', min: p.intMin, max: p.intMax,
          afterBuildTicks: fixed(p.intTicks),
          afterFit: (s: any) => { s.width = p.rightW; },
          ticks: { font: tickFont, color: '#000', padding: p.padRight, autoSkip: false, callback: (v: number) => String(v) },
        },
      },
    },
    plugins: [decorPlugin(p)],
  };
}

export default function App() {
  const refC = useRef<HTMLCanvasElement>(null);
  const refD = useRef<HTMLCanvasElement>(null);

  useEffect(() => {
    const c1 = new Chart(refC.current as HTMLCanvasElement, makeConfig(panelC));
    const c2 = new Chart(refD.current as HTMLCanvasElement, makeConfig(panelD));
    return () => {
      c1.destroy();
      c2.destroy();
    };
  }, []);

  const capStyle: React.CSSProperties = {
    position: 'absolute', left: 0, width: 758, textAlign: 'center',
    fontFamily: "'Liberation Serif', 'Times New Roman', serif", fontSize: 17, lineHeight: '20px', color: '#000',
  };

  return (
    <div style={{ position: 'absolute', left: 0, top: 0, width: 749, height: 1208, background: '#fff', overflow: 'hidden' }}>
      <canvas ref={refC} width={749} height={590} style={{ position: 'absolute', left: 0, top: 0, width: 749, height: 590 }} />
      <div style={{ ...capStyle, top: 568 }}>(<b>c</b>)</div>
      <canvas ref={refD} width={749} height={611} style={{ position: 'absolute', left: 0, top: 597, width: 749, height: 611 }} />
      <div style={{ ...capStyle, top: 1179 }}>(<b>d</b>)</div>
    </div>
  );
}
